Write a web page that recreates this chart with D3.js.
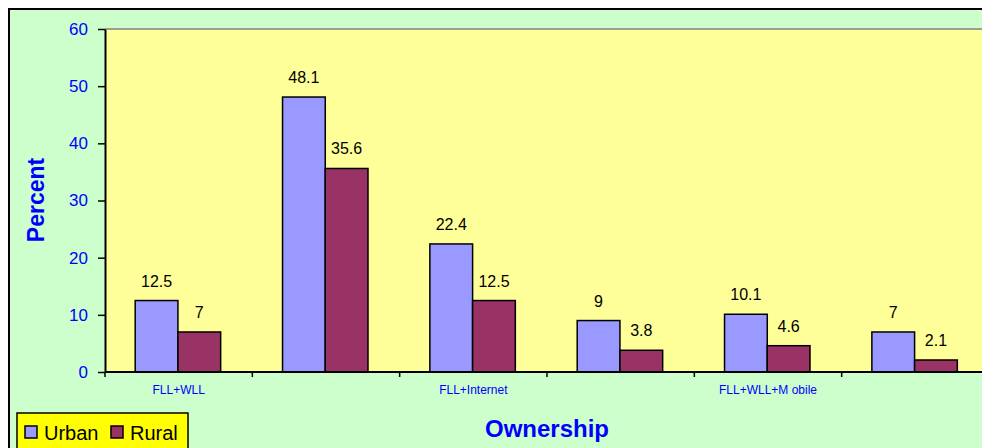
<!DOCTYPE html>
<html>
<head>
<meta charset="utf-8">
<script src="https://cdn.jsdelivr.net/npm/d3@7"></script>
<style>
  html, body { margin: 0; padding: 0; background: #ffffff; }
  svg { display: block; }
  text { font-family: Arial, "Liberation Sans", sans-serif; }
</style>
</head>
<body>
<svg id="chart" width="982" height="448"></svg>
<script>
// Ownership categories (only every other label is printed on the axis)
const categories = ["FLL+WLL", "FLL+Mobile", "FLL+Internet", "FLL+WLL+Internet", "FLL+WLL+Mobile", "FLL+Mobile+Internet"];
const axisLabels = ["FLL+WLL", "", "FLL+Internet", "", "FLL+WLL+M obile", ""];
const seriesNames = ["Urban", "Rural"];
const urban = [12.5, 48.1, 22.4, 9, 10.1, 7];
const rural = [7, 35.6, 12.5, 3.8, 4.6, 2.1];
const yTicks = [0, 10, 20, 30, 40, 50, 60];
const colors = ["#9999FF", "#993366"];

const svg = d3.select("#chart");

// chart area background and frame
svg.append("rect").attr("x", 9).attr("y", 9).attr("width", 990).attr("height", 450)
  .attr("fill", "#CCFFCC").attr("stroke", "#000").attr("stroke-width", 2);

const plot = { left: 105, top: 29, right: 989, bottom: 372 };

const x = d3.scaleBand().domain(categories).range([plot.left, plot.right]).paddingInner(0).paddingOuter(0);
const y = d3.scaleLinear().domain([0, 60]).range([plot.bottom, plot.top]);

// plot area
svg.append("rect").attr("x", plot.left).attr("y", plot.top)
  .attr("width", plot.right - plot.left).attr("height", plot.bottom - plot.top)
  .attr("fill", "#FFFF99");
svg.append("line").attr("x1", plot.left).attr("x2", plot.right)
  .attr("y1", plot.top).attr("y2", plot.top)
  .attr("stroke", "#808080").attr("stroke-width", 1.5);

// bars
const barW = x.bandwidth() * 0.29;
const groupOffset = x.bandwidth() * 0.205;
const data = categories.map((c, i) => ({ c, vals: [urban[i], rural[i]] }));

const groups = svg.append("g").selectAll("g").data(data).join("g")
  .attr("transform", d => `translate(${x(d.c) + groupOffset},0)`);

groups.selectAll("rect").data(d => d.vals).join("rect")
  .attr("x", (v, j) => j * barW)
  .attr("y", v => y(v))
  .attr("width", barW)
  .attr("height", v => y(0) - y(v))
  .attr("fill", (v, j) => colors[j])
  .attr("stroke", "#000").attr("stroke-width", 1.5);

groups.selectAll("text").data(d => d.vals).join("text")
  .attr("x", (v, j) => j * barW + barW / 2)
  .attr("y", v => y(v) - 14)
  .attr("text-anchor", "middle")
  .attr("font-size", 16)
  .attr("fill", "#000")
  .text(v => v);

// y axis
const yAxis = d3.axisLeft(y).tickValues(yTicks).tickSize(7).tickPadding(10).tickSizeOuter(0);
const gy = svg.append("g").attr("transform", `translate(${plot.left},0)`).call(yAxis);
gy.select(".domain").attr("stroke", "#000").attr("stroke-width", 2);
gy.selectAll(".tick line").attr("stroke", "#000").attr("stroke-width", 1.5);
gy.selectAll(".tick text").attr("fill", "#0000FF").attr("font-size", 17)
  .attr("font-family", "Arial, 'Liberation Sans', sans-serif");

// x axis: ticks at band boundaries, labels under alternate categories
const gx = svg.append("g").attr("transform", `translate(0,${plot.bottom})`);
gx.append("line").attr("x1", plot.left).attr("x2", plot.right).attr("y1", 0).attr("y2", 0)
  .attr("stroke", "#000").attr("stroke-width", 2);
gx.selectAll("line.tk").data(categories).join("line").attr("class", "tk")
  .attr("x1", d => x(d)).attr("x2", d => x(d)).attr("y1", 0).attr("y2", 5)
  .attr("stroke", "#000").attr("stroke-width", 1.5);
gx.selectAll("text").data(categories).join("text")
  .attr("x", d => x(d) + x.bandwidth() / 2)
  .attr("y", 22)
  .attr("text-anchor", "middle")
  .attr("font-size", 12)
  .attr("fill", "#0000FF")
  .text((d, i) => axisLabels[i]);

// axis titles
svg.append("text").attr("x", 547).attr("y", 437).attr("text-anchor", "middle")
  .attr("font-size", 24).attr("font-weight", "bold").attr("fill", "#0000FF")
  .text("Ownership");
svg.append("text").attr("transform", "translate(44,200) rotate(-90)")
  .attr("text-anchor", "middle")
  .attr("font-size", 23).attr("font-weight", "bold").attr("fill", "#0000FF")
  .text("Percent");

// legend
const lg = svg.append("g").attr("transform", "translate(17,413)");
lg.append("rect").attr("width", 171).attr("height", 40)
  .attr("fill", "#FFFF00").attr("stroke", "#000").attr("stroke-width", 1.5);
const items = lg.selectAll("g").data(seriesNames).join("g")
  .attr("transform", (d, i) => `translate(${i === 0 ? 8 : 94},0)`);
items.append("rect").attr("x", 0).attr("y", 13).attr("width", 12).attr("height", 12)
  .attr("fill", (d, i) => colors[i]).attr("stroke", "#000").attr("stroke-width", 1.5);
items.append("text").attr("x", 19).attr("y", 27).attr("font-size", 20).attr("fill", "#000")
  .text(d => d);
</script>
</body>
</html>
